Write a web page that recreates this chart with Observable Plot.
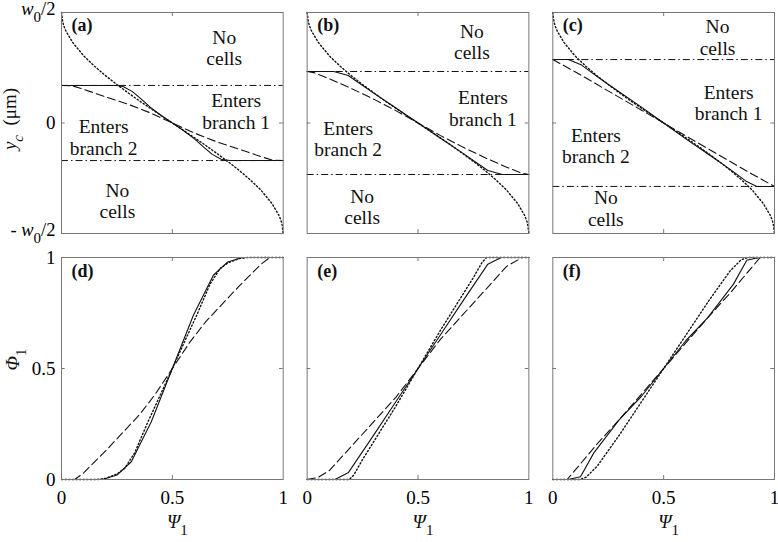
<!DOCTYPE html>
<html><head><meta charset="utf-8">
<script src="https://cdn.jsdelivr.net/npm/d3@7"></script>
<script src="https://cdn.jsdelivr.net/npm/@observablehq/plot@0.6"></script>
<style>
body{margin:0;background:#fff}
#chart{width:778px;height:542px;position:relative;background:#fff}
#chart svg{display:block}
#chart svg, #chart svg text{font-family:'Liberation Serif','Times New Roman',serif !important}
</style>
</head><body><div id="chart"></div>
<script>
// ---------- data ----------
const panelsTop = ["a", "b", "c"];
const panelsBottom = ["d", "e", "f"];
// y positions of the dash-dot boundary lines (in units of w0)
const boundary = {a: 0.17, b: 0.233, c: 0.287};

// dotted theoretical curve, same in (a)-(c)
const dottedTop = [[0,0.5],[0.005,0.46],[0.01,0.44],[0.02,0.416],[0.05,0.365],[0.1,0.304],[0.15,0.256],[0.2,0.213],[0.25,0.174],[0.3,0.137],[0.35,0.101],[0.4,0.067],[0.45,0.033],[0.5,0],[0.55,-0.033],[0.6,-0.067],[0.65,-0.101],[0.7,-0.137],[0.75,-0.174],[0.8,-0.213],[0.85,-0.256],[0.9,-0.304],[0.95,-0.365],[0.98,-0.416],[0.99,-0.44],[0.995,-0.46],[1,-0.5]];

const aSolid = [[0,0.17],[0.25,0.17],[0.28,0.164],[0.32,0.142],[0.36,0.108],[0.40,0.072],[0.45,0.034],[0.5,0],[0.55,-0.034],[0.6,-0.072],[0.64,-0.108],[0.68,-0.142],[0.72,-0.164],[0.76,-0.17],[1,-0.17]];
const aDashed = [[0,0.17],[0.05,0.168],[0.1,0.152],[0.2,0.118],[0.3,0.085],[0.4,0.046],[0.5,0],[0.6,-0.046],[0.7,-0.085],[0.8,-0.118],[0.9,-0.152],[0.95,-0.168],[1,-0.17]];
const bSolid = [[0,0.233],[0.12,0.233],[0.185,0.215],[0.3,0.135],[0.4,0.068],[0.5,0],[0.6,-0.068],[0.7,-0.135],[0.815,-0.215],[0.88,-0.233],[1,-0.233]];
const bDashed = [[0,0.233],[0.03,0.228],[0.1,0.2],[0.2,0.156],[0.3,0.108],[0.4,0.056],[0.5,0],[0.6,-0.056],[0.7,-0.108],[0.8,-0.156],[0.9,-0.2],[0.97,-0.228],[1,-0.233]];
const cSolid = [[0,0.287],[0.07,0.287],[0.13,0.262],[0.2,0.21],[0.3,0.14],[0.4,0.072],[0.5,0],[0.6,-0.072],[0.7,-0.14],[0.8,-0.21],[0.87,-0.262],[0.92,-0.287],[1,-0.287]];
const cDashed = [[0,0.287],[0.1,0.232],[0.2,0.174],[0.3,0.116],[0.4,0.058],[0.5,0],[0.6,-0.058],[0.7,-0.116],[0.8,-0.174],[0.9,-0.232],[1,-0.287]];

const dSolid = [[0,0],[0.185,0],[0.25,0.02],[0.315,0.08],[0.405,0.26],[0.5,0.5],[0.595,0.74],[0.685,0.92],[0.75,0.98],[0.815,1],[1,1]];
const dDotted = [[0,0],[0.16,0],[0.2,0.005],[0.25,0.025],[0.285,0.05],[0.33,0.12],[0.39,0.26],[0.45,0.39],[0.5,0.5],[0.55,0.61],[0.61,0.74],[0.67,0.88],[0.715,0.95],[0.75,0.975],[0.8,0.995],[0.84,1],[1,1]];
const dDashed = [[0,0],[0.06,0],[0.1,0.03],[0.2,0.13],[0.35,0.29],[0.42,0.38],[0.5,0.5],[0.58,0.62],[0.65,0.71],[0.8,0.87],[0.9,0.97],[0.94,1],[1,1]];
const eSolid = [[0,0],[0.125,0],[0.185,0.03],[0.3,0.2],[0.4,0.35],[0.5,0.5],[0.6,0.65],[0.7,0.8],[0.815,0.97],[0.875,1],[1,1]];
const eDotted = [[0,0],[0.19,0],[0.21,0.02],[0.25,0.09],[0.3,0.17],[0.4,0.33],[0.5,0.5],[0.6,0.67],[0.7,0.83],[0.75,0.91],[0.79,0.98],[0.81,1],[1,1]];
const eDashed = [[0,0],[0.05,0.01],[0.1,0.04],[0.2,0.15],[0.3,0.26],[0.4,0.37],[0.5,0.5],[0.6,0.63],[0.7,0.74],[0.8,0.85],[0.9,0.96],[0.97,1],[1,1]];
const fSolid = [[0,0],[0.07,0],[0.125,0.012],[0.185,0.12],[0.3,0.27],[0.4,0.375],[0.5,0.5],[0.6,0.625],[0.7,0.73],[0.815,0.88],[0.875,0.988],[0.93,1],[1,1]];
const fDotted = [[0,0],[0.12,0],[0.15,0.01],[0.2,0.06],[0.3,0.2],[0.4,0.35],[0.5,0.5],[0.6,0.65],[0.7,0.8],[0.8,0.94],[0.85,0.99],[0.88,1],[1,1]];
const fDashed = [[0,0],[0.065,0],[0.2,0.16],[0.3,0.27],[0.4,0.385],[0.5,0.5],[0.6,0.615],[0.7,0.73],[0.8,0.84],[0.935,1],[1,1]];

// region annotations (data units of each top panel)
const regionLabels = [
  {panel:"a", x:0.734, y:0.342, t:"No\ncells"},
  {panel:"a", x:0.788, y:0.054, t:"Enters\nbranch 1"},
  {panel:"a", x:0.19, y:-0.063, t:"Enters\nbranch 2"},
  {panel:"a", x:0.252, y:-0.351, t:"No\ncells"},
  {panel:"b", x:0.743, y:0.367, t:"No\ncells"},
  {panel:"b", x:0.793, y:0.068, t:"Enters\nbranch 1"},
  {panel:"b", x:0.185, y:-0.07, t:"Enters\nbranch 2"},
  {panel:"b", x:0.248, y:-0.378, t:"No\ncells"},
  {panel:"c", x:0.743, y:0.389, t:"No\ncells"},
  {panel:"c", x:0.793, y:0.093, t:"Enters\nbranch 1"},
  {panel:"c", x:0.194, y:-0.102, t:"Enters\nbranch 2"},
  {panel:"c", x:0.239, y:-0.385, t:"No\ncells"}
];
const xTicks = [0, 0.5, 1];
const yTicksBottom = [0, 0.5, 1];

// ---------- build tables ----------
const topSeries = {
  a: {solid: aSolid, dashed: aDashed, dotted: dottedTop},
  b: {solid: bSolid, dashed: bDashed, dotted: dottedTop},
  c: {solid: cSolid, dashed: cDashed, dotted: dottedTop}
};
const bottomSeries = {
  d: {solid: dSolid, dashed: dDashed, dotted: dDotted},
  e: {solid: eSolid, dashed: eDashed, dotted: eDotted},
  f: {solid: fSolid, dashed: fDashed, dotted: fDotted}
};
function toRows(map) {
  const out = [];
  for (const p in map) for (const s in map[p]) for (const [x, y] of map[p][s]) out.push({panel: p, style: s, x, y});
  return out;
}
const topRows = toRows(topSeries);
const bottomRows = toRows(bottomSeries);
const boundaryRows = panelsTop.flatMap(p => [{panel: p, y: boundary[p]}, {panel: p, y: -boundary[p]}]);

const FONT = "'Liberation Serif','Times New Roman',serif";
const FR = "#777";
const INK = "#111";
const DASH = {solid: null, dashed: "8,4", dotted: "1.3,2.3"};
const WIDTH = {solid: 1.1, dashed: 1.1, dotted: 1.4};
const fmt = d => `${d}`;

function curveMarks(rows) {
  return ["dotted", "dashed", "solid"].map(s => Plot.line(rows.filter(d => d.style === s), {
    fx: "panel", x: "x", y: "y", z: "panel", stroke: INK, strokeWidth: WIDTH[s],
    strokeDasharray: DASH[s] || undefined
  }));
}
function tickMarks(fh) {
  return [
    Plot.ruleX([0.5], {x: d => d, insetBottom: fh - 4, stroke: FR}),
    Plot.ruleX([0.5], {x: d => d, insetTop: fh - 4, stroke: FR})
  ];
}

const fxBase = {paddingInner: 0.0976, paddingOuter: 0, round: false, axis: null, label: null};
const STYLE = `font-family:${FONT};font-size:19px;background:white;color:#000;`;

const topPlot = Plot.plot({
  width: 778, height: 248,
  marginLeft: 61, marginRight: 4, marginTop: 12, marginBottom: 15,
  style: STYLE,
  fx: {...fxBase, domain: panelsTop},
  x: {domain: [0, 1], axis: null, label: null},
  y: {domain: [-0.5, 0.5], axis: null, label: null},
  marks: [
    Plot.ruleY(boundaryRows, {fx: "panel", y: "y", stroke: INK, strokeWidth: 1, strokeDasharray: "7,3,1.5,3"}),
    ...curveMarks(topRows),
    Plot.frame({stroke: FR}),
    ...tickMarks(221),
    Plot.ruleY([0], {y: d => d, insetRight: 218, stroke: FR}),
    Plot.ruleY([0], {y: d => d, insetLeft: 218, stroke: FR}),
    Plot.text(regionLabels, {fx: "panel", x: "x", y: "y", text: "t", fontSize: 19.5, lineHeight: 1.1, fill: INK, fontFamily: FONT}),
    Plot.text(panelsTop, {fx: d => d, text: d => `(${d})`, frameAnchor: "top-left", textAnchor: "start", lineAnchor: "middle", dx: 10, dy: 12.5, fontWeight: "bold", fontSize: 18, fill: INK, fontFamily: FONT}),
    Plot.axisY([0], {tickSize: 0, tickPadding: 6, tickFormat: () => "0", fontSize: 19, label: null, fontFamily: FONT}),
    Plot.axisY([-0.5, 0.5], {tickSize: 0, tickPadding: 6, dy: -3, tickFormat: d => d > 0 ? "w_0/2" : "- w_0/2", fontSize: 18.5, label: null, fontFamily: FONT}),
    Plot.text(["a"], {fx: d => d, text: () => "y_c\u2002(μm)", frameAnchor: "left", rotate: -90, textAnchor: "middle", lineAnchor: "middle", dx: -52, dy: -4, fontSize: 19, fill: INK, fontFamily: FONT})
  ]
});

const bottomPlot = Plot.plot({
  width: 778, height: 294,
  marginLeft: 61, marginRight: 4, marginTop: 9, marginBottom: 63,
  style: STYLE,
  fx: {...fxBase, domain: panelsBottom},
  x: {domain: [0, 1], axis: null, label: null},
  y: {domain: [0, 1], axis: null, label: null},
  marks: [
    ...curveMarks(bottomRows),
    Plot.frame({stroke: FR}),
    ...tickMarks(222),
    Plot.ruleY([0.5], {y: d => d, insetRight: 218, stroke: FR}),
    Plot.ruleY([0.5], {y: d => d, insetLeft: 218, stroke: FR}),
    Plot.text(panelsBottom, {fx: d => d, text: d => `(${d})`, frameAnchor: "top-left", textAnchor: "start", lineAnchor: "middle", dx: 10, dy: 13.5, fontWeight: "bold", fontSize: 18, fill: INK, fontFamily: FONT}),
    Plot.axisX(xTicks, {tickSize: 0, tickPadding: 11, tickFormat: fmt, fontSize: 19, label: null, fontFamily: FONT}),
    Plot.axisY(yTicksBottom, {tickSize: 0, tickPadding: 6, tickFormat: fmt, fontSize: 19, label: null, fontFamily: FONT}),
    Plot.text(panelsBottom, {fx: d => d, text: () => "Ψ_1", frameAnchor: "bottom", textAnchor: "middle", lineAnchor: "middle", dx: 5, dy: 42, fontSize: 19, fill: INK, fontFamily: FONT}),
    Plot.text(["d"], {fx: d => d, text: () => "Φ_1", frameAnchor: "left", rotate: -90, textAnchor: "middle", lineAnchor: "middle", dx: -49, dy: -9, fontSize: 19, fill: INK, fontFamily: FONT})
  ]
});

// ---------- rich text (italics & subscripts) ----------
const RICH = {
  "w_0/2": [["w", "i"], ["0", "s"], ["/2", ""]],
  "- w_0/2": [["- ", ""], ["w", "i"], ["0", "s"], ["/2", ""]],
  "y_c\u2002(μm)": [["y", "i"], ["c", "is"], ["\u2002(μm)", ""]],
  "Ψ_1": [["Ψ", "i"], ["1", "s"]],
  "Φ_1": [["Φ", "i"], ["1", "s"]]
};
function enrich(svg) {
  svg.querySelectorAll("text").forEach(t => {
    const segs = RICH[t.textContent];
    if (!segs) return;
    while (t.firstChild) t.removeChild(t.firstChild);
    let down = false;
    for (const [s, f] of segs) {
      const ts = document.createElementNS("http://www.w3.org/2000/svg", "tspan");
      ts.textContent = s;
      if (f.includes("i")) ts.setAttribute("font-style", "italic");
      const sub = f.includes("s");
      if (sub) ts.setAttribute("font-size", "15");
      if (sub && !down) { ts.setAttribute("dy", "7"); down = true; }
      else if (!sub && down) { ts.setAttribute("dy", "-7"); down = false; }
      t.appendChild(ts);
    }
  });
}
enrich(topPlot); enrich(bottomPlot);
const chart = document.getElementById("chart");
chart.appendChild(topPlot);
chart.appendChild(bottomPlot);
</script></body></html>
